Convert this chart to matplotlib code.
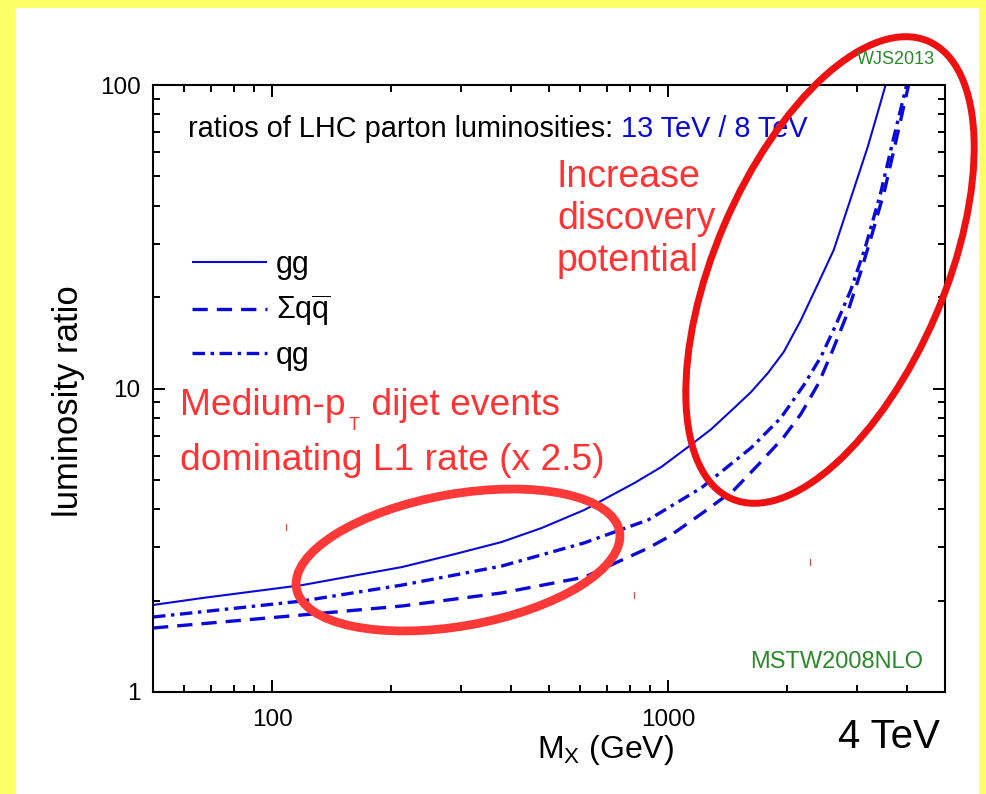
import matplotlib
matplotlib.use("Agg")
import matplotlib.pyplot as plt
from matplotlib.patches import Ellipse, Rectangle
from matplotlib.ticker import LogLocator, FuncFormatter, NullFormatter

plt.rcParams['font.family'] = ['Liberation Sans', 'DejaVu Sans']
plt.rcParams['mathtext.fontset'] = 'custom'
plt.rcParams['mathtext.rm'] = 'Liberation Sans'
plt.rcParams['mathtext.it'] = 'Liberation Sans:italic'
plt.rcParams['lines.scale_dashes'] = False

# luminosity ratios 13 TeV / 8 TeV
mx_gg = [50, 66.6, 119, 159, 212.5, 284, 379.6, 479, 614, 821, 960, 1123, 1282,
         1466, 1618, 1786, 1958, 2163, 2388, 2618, 2891, 3190, 3361, 3540]
ratio_gg = [1.935, 2.04, 2.25, 2.41, 2.58, 2.83, 3.12, 3.47, 3.98, 4.88, 5.51, 6.42, 7.33,
            8.62, 9.73, 11.25, 13.2, 16.8, 22.1, 28.6, 42.3, 62.5, 79, 100]

mx_qq = [50, 119, 212.5, 379.6, 614, 890, 1000, 1211, 1466, 1695, 1958, 2163, 2399,
         2604, 2824, 3063, 3284, 3521, 3775, 4046]
ratio_qq = [1.625, 1.794, 1.92, 2.12, 2.39, 2.98, 3.24, 3.86, 4.63, 5.64, 6.92, 8.24, 10.42,
            13.4, 17.47, 24.2, 32.8, 45.1, 66.9, 100]

mx_qg = [50, 119, 212.5, 379.6, 614, 890, 1211, 1618, 1925, 2201, 2429, 2650, 2891,
         3153, 3440, 3709, 4000]
ratio_qg = [1.766, 1.994, 2.25, 2.60, 3.10, 3.69, 4.70, 6.37, 8.00, 10.27, 12.70, 16.19, 21.1,
            29.5, 44.1, 66.9, 100]

labels = ['gg', r'$\Sigma\mathrm{q}\overline{\mathrm{q}}$', 'qg']
blue = '#0a0ad8'

fig = plt.figure(figsize=(9.87, 7.94), dpi=100)
fig.patch.set_facecolor('#ffff66')
fig.patches.append(Rectangle((16 / 987, 0), (979 - 16) / 987, 1 - 8 / 794,
                             transform=fig.transFigure, facecolor='white',
                             edgecolor='none', zorder=-5))

ax = fig.add_axes([153 / 987, 1 - 692 / 794, 792 / 987, 607 / 794])
ax.set_facecolor('white')

l1, = ax.plot(mx_gg, ratio_gg, color=blue, lw=1.5, solid_capstyle='butt')
l2, = ax.plot(mx_qq, ratio_qq, color=blue, lw=2.4, dashes=(11, 6.5))
l3, = ax.plot(mx_qg, ratio_qg, color=blue, lw=2.4, dashes=(9, 4, 2.5, 4))

ax.set_xscale('log')
ax.set_yscale('log')
ax.set_xlim(50, 5000)
ax.set_ylim(1, 100)

ax.xaxis.set_major_locator(LogLocator(base=10))
ax.xaxis.set_minor_locator(LogLocator(base=10, subs=range(2, 10)))
ax.yaxis.set_major_locator(LogLocator(base=10))
ax.yaxis.set_minor_locator(LogLocator(base=10, subs=range(2, 10)))
fmt = FuncFormatter(lambda v, p: f'{v:g}')
ax.xaxis.set_major_formatter(fmt)
ax.yaxis.set_major_formatter(fmt)
ax.xaxis.set_minor_formatter(NullFormatter())
ax.yaxis.set_minor_formatter(NullFormatter())

ax.tick_params(which='both', direction='in', top=True, right=True,
               width=1.4, labelsize=17.5, colors='black')
ax.tick_params(which='major', length=8.6)
ax.tick_params(which='minor', length=5)
ax.tick_params(axis='x', pad=12)
ax.tick_params(axis='y', pad=9)
for s in ax.spines.values():
    s.set_linewidth(1.5)

ax.set_xlabel(r'M$_\mathrm{X}$ (GeV)', fontsize=23)
ax.xaxis.set_label_coords(0.572, -0.068)
ax.set_ylabel('luminosity ratio', fontsize=25)
ax.yaxis.set_label_coords(-0.086, 0.48)

t1 = ax.text(0.044, 0.914, 'ratios of LHC parton luminosities:', transform=ax.transAxes,
             fontsize=20.8, color='black', va='baseline', ha='left')
ax.annotate(' 13 TeV / 8 TeV', xy=(1, 0), xycoords=t1, fontsize=20.8,
            color=blue, va='bottom', ha='left')

ax.legend([l1, l2, l3], labels, loc='upper left', bbox_to_anchor=(0.049, 0.728),
          frameon=False, fontsize=22, handlelength=2.45, handletextpad=0.3,
          labelspacing=0.4, borderpad=0, borderaxespad=0)

ax.text(0.973, 0.049, 'MSTW2008NLO', transform=ax.transAxes, fontsize=17,
        color='#2a8a2a', ha='right', va='center')

# overlay in pixel coordinates for the slide annotations
ov = fig.add_axes([0, 0, 1, 1], zorder=5)
ov.set_xlim(0, 987)
ov.set_ylim(794, 0)
ov.axis('off')
ov.patch.set_alpha(0)

ov.text(896, 60, 'WJS2013', fontsize=13, color='#2a8a2a', ha='center', va='center')

red = '#ff3333'
for txt, y in zip(['Increase', 'discovery', 'potential'], [177, 219, 261]):
    ov.text(557, y, txt, fontsize=27, color=red, ha='left', va='center')
ta = ov.text(180, 415, 'Medium-p', fontsize=26.8, color=red, ha='left', va='baseline')
tb = ov.annotate('T', xy=(1, 0), xycoords=ta, xytext=(2, 4), textcoords='offset points',
                 fontsize=13, color=red, ha='left', va='top')
ov.annotate(' dijet events', xy=(1, 415), xycoords=(tb, 'data'), xytext=(1, 0),
            textcoords='offset points', fontsize=26.8, color=red, ha='left', va='baseline')
ov.text(180, 470, 'dominating L1 rate (x 2.5)', fontsize=26.8, color=red,
        ha='left', va='baseline')
ov.text(838, 748, '4 TeV', fontsize=29, color='black', ha='left', va='baseline')

ov.add_patch(Ellipse((458, 560), 328, 132, angle=-10, fill=False,
                     edgecolor='#ff3838', lw=6.3))
ov.add_patch(Ellipse((830, 270), 498, 230, angle=-66.8, fill=False,
                     edgecolor='#ee1111', lw=5))

# tiny red specks left on the slide
for sx, sy in [(286, 527), (634, 595), (810, 562)]:
    ov.plot([sx, sx], [sy - 3, sy + 3], color='#e05050', lw=0.9)

fig.savefig('out.png', dpi=100, facecolor=fig.get_facecolor())
